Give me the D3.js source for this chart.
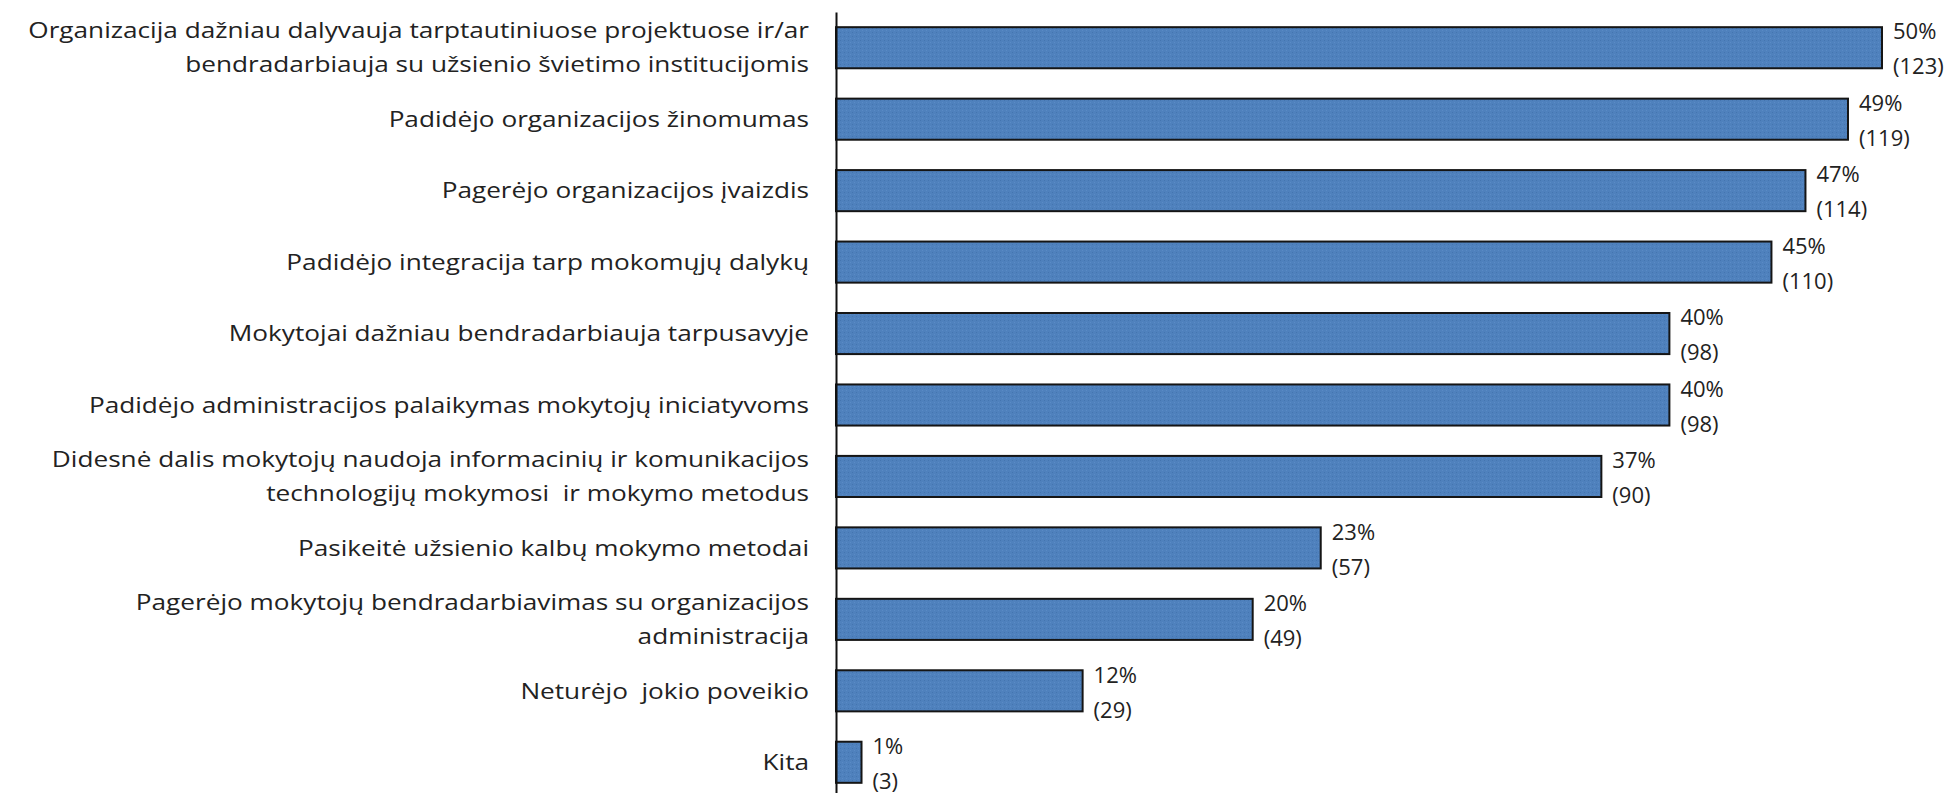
<!DOCTYPE html>
<html>
<head>
<meta charset="utf-8">
<script src="https://cdn.jsdelivr.net/npm/d3@7"></script>
<style>
    body { margin: 0; background: #fff; }
    svg { display: block; }
    .cat, .val { font-family: "Open Sans", sans-serif; font-size: 22px; fill: #222; }
</style>
</head>
<body>
<div id="content"></div>
<script>
var categories = [
    "Organizacija dažniau dalyvauja tarptautiniuose projektuose ir/ar\nbendradarbiauja su užsienio švietimo institucijomis",
    "Padidėjo organizacijos žinomumas",
    "Pagerėjo organizacijos įvaizdis",
    "Padidėjo integracija tarp mokomųjų dalykų",
    "Mokytojai dažniau bendradarbiauja tarpusavyje",
    "Padidėjo administracijos palaikymas mokytojų iniciatyvoms",
    "Didesnė dalis mokytojų naudoja informacinių ir komunikacijos\ntechnologijų mokymosi  ir mokymo metodus",
    "Pasikeitė užsienio kalbų mokymo metodai",
    "Pagerėjo mokytojų bendradarbiavimas su organizacijos\nadministracija",
    "Neturėjo  jokio poveikio",
    "Kita"
];
var percents = [50, 49, 47, 45, 40, 40, 37, 23, 20, 12, 1];
var counts = [123, 119, 114, 110, 98, 98, 90, 57, 49, 29, 3];

var data = categories.map(function(c, i) {
    return { label: c, pct: percents[i], n: counts[i] };
});

var W = 1958, H = 793;
var margin = { top: 12, left: 836 };

var svg = d3.select("div#content").append("svg")
    .attr("width", W)
    .attr("height", H);

// speckled excel-like fill
var pat = svg.append("defs").append("pattern")
    .attr("id", "speck")
    .attr("width", 4).attr("height", 4)
    .attr("patternUnits", "userSpaceOnUse");
pat.append("rect").attr("width", 4).attr("height", 4).attr("fill", "#4f81bd");
pat.append("rect").attr("x", 0).attr("y", 0).attr("width", 1).attr("height", 1).attr("fill", "#4475b0");
pat.append("rect").attr("x", 2).attr("y", 2).attr("width", 1).attr("height", 1).attr("fill", "#5a8bc6");

var g = svg.append("g")
    .attr("transform", "translate(" + margin.left + "," + margin.top + ")");

var x = d3.scaleLinear().domain([0, 123]).range([0, 1046]);
var y = d3.scaleBand()
    .domain(categories)
    .range([0, 786])
    .paddingInner(0.425)
    .paddingOuter(0.2125);

g.selectAll(".bar")
    .data(data)
    .enter().append("rect")
    .attr("class", "bar")
    .attr("x", 0)
    .attr("y", function(d) { return y(d.label); })
    .attr("width", function(d) { return x(d.n); })
    .attr("height", y.bandwidth())
    .attr("fill", "url(#speck)")
    .attr("stroke", "#151515")
    .attr("stroke-width", 2);

g.append("g")
    .call(d3.axisLeft(y).tickSize(0).tickSizeOuter(0).tickFormat(""))
    .select(".domain")
    .attr("stroke", "#111")
    .attr("stroke-width", 2);

// category labels, right aligned, may be two lines (stretched a bit wider like the original)
var cat = g.selectAll(".cat")
    .data(data)
    .enter().append("text")
    .attr("class", "cat")
    .attr("text-anchor", "end")
    .attr("transform", function(d) {
        return "translate(-27," + (y(d.label) + y.bandwidth() / 2) + ") scale(1.19,1)";
    });

cat.each(function(d) {
    var lines = d.label.split("\n");
    var t = d3.select(this);
    lines.forEach(function(l, i) {
        var off = lines.length === 1 ? 0 : (i === 0 ? -17 : 17);
        t.append("tspan")
            .attr("x", 0)
            .attr("y", off)
            .attr("dy", "0.35em")
            .style("white-space", "pre")
            .text(l);
    });
});

// value labels: percent over count
var val = g.selectAll(".val")
    .data(data)
    .enter().append("text")
    .attr("class", "val")
    .attr("transform", function(d) {
        return "translate(" + (x(d.n) + 11) + "," + (y(d.label) + y.bandwidth() / 2) + ")";
    });

val.append("tspan")
    .attr("x", 0).attr("y", -16).attr("dy", "0.35em")
    .text(function(d) { return d.pct + "%"; });
val.append("tspan")
    .attr("x", 0).attr("y", 19).attr("dy", "0.35em")
    .text(function(d) { return "(" + d.n + ")"; });
</script>
</body>
</html>
